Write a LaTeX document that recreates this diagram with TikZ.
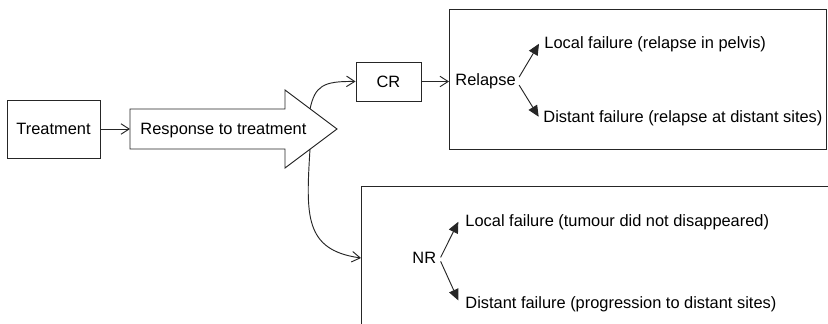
\documentclass[tikz,border=0pt]{standalone}
\usepackage{fontspec}
\setmainfont{Liberation Sans}
\usetikzlibrary{arrows.meta}

\begin{document}
\begin{tikzpicture}[x=0.03cm,y=-0.03cm,
    line width=0.8pt, draw=black!85,
    font=\fontsize{14}{16}\selectfont,
    box/.style = {draw, inner sep=0pt},
    txt/.style = {inner sep=0pt, anchor=base west},
    open/.style = {-{Straight Barb[length=7pt,width=9pt]}},
    filled/.style = {-{Triangle[length=9.5pt,width=8.5pt]}}]

\useasboundingbox (0,0) rectangle (828,323);
\clip (0,0) rectangle (828,323);

% Treatment
\node[box,minimum width=2.79cm,minimum height=1.74cm] (treat) at (53.5,129) {Treatment};

% Response arrow
\draw (130,109) -- (285,109) -- (285,90) -- (337,129) -- (285,168)
    -- (285,149) -- (130,149) -- cycle;
\node[txt] (resp) at (140,134) {Response to treatment};
\coordinate (rtail) at (130,129);
\coordinate (crout) at (310,109);
\coordinate (nrout) at (310,149);

% CR
\node[box,minimum width=1.95cm,minimum height=1.17cm] (cr) at (388.5,81.5) {CR};

% Boxes
\node[box,anchor=north west,minimum width=11.31cm,minimum height=4.2cm] (crbox) at (449,9) {};
\node[box,anchor=north west,minimum width=14.5cm,minimum height=4.5cm] (nrbox) at (361,186) {};
\coordinate (nrin) at (361,258);

% Relapse
\node[txt] (relapse) at (455,85) {Relapse};
\node[txt] (lf1) at (544,48) {Local failure (relapse in pelvis)};
\node[txt] (df1) at (543,122) {Distant failure (relapse at distant sites)};

% NR
\node[txt] (nr) at (412,263) {NR};
\node[txt] (lf2) at (465,226) {Local failure (tumour did not disappeared)};
\node[txt] (df2) at (465,308) {Distant failure (progression to distant sites)};

% Connectors
\draw[open] (treat.east) -- (rtail);
\draw[open] (crout) .. controls (315,86) and (323,81) .. (cr.west);
\draw[open] (cr.east) -- (cr.east -| crbox.west);
\draw[open] (nrout) .. controls (306,215) and (304,250) .. (nrin);
\draw[filled] ([xshift=0.9mm,yshift=1.1mm]relapse.east) -- ([xshift=-1.5mm]lf1.west);
\draw[filled] ([xshift=0.9mm,yshift=-1.3mm]relapse.east) -- ([xshift=-1.3mm,yshift=0.3mm]df1.west);
\draw[filled] ([xshift=1.2mm]nr.east) -- ([xshift=-2mm]lf2.west);
\draw[filled] ([xshift=1.2mm,yshift=-1.2mm]nr.east) -- ([xshift=-2mm,yshift=1mm]df2.west);

\end{tikzpicture}
\end{document}
